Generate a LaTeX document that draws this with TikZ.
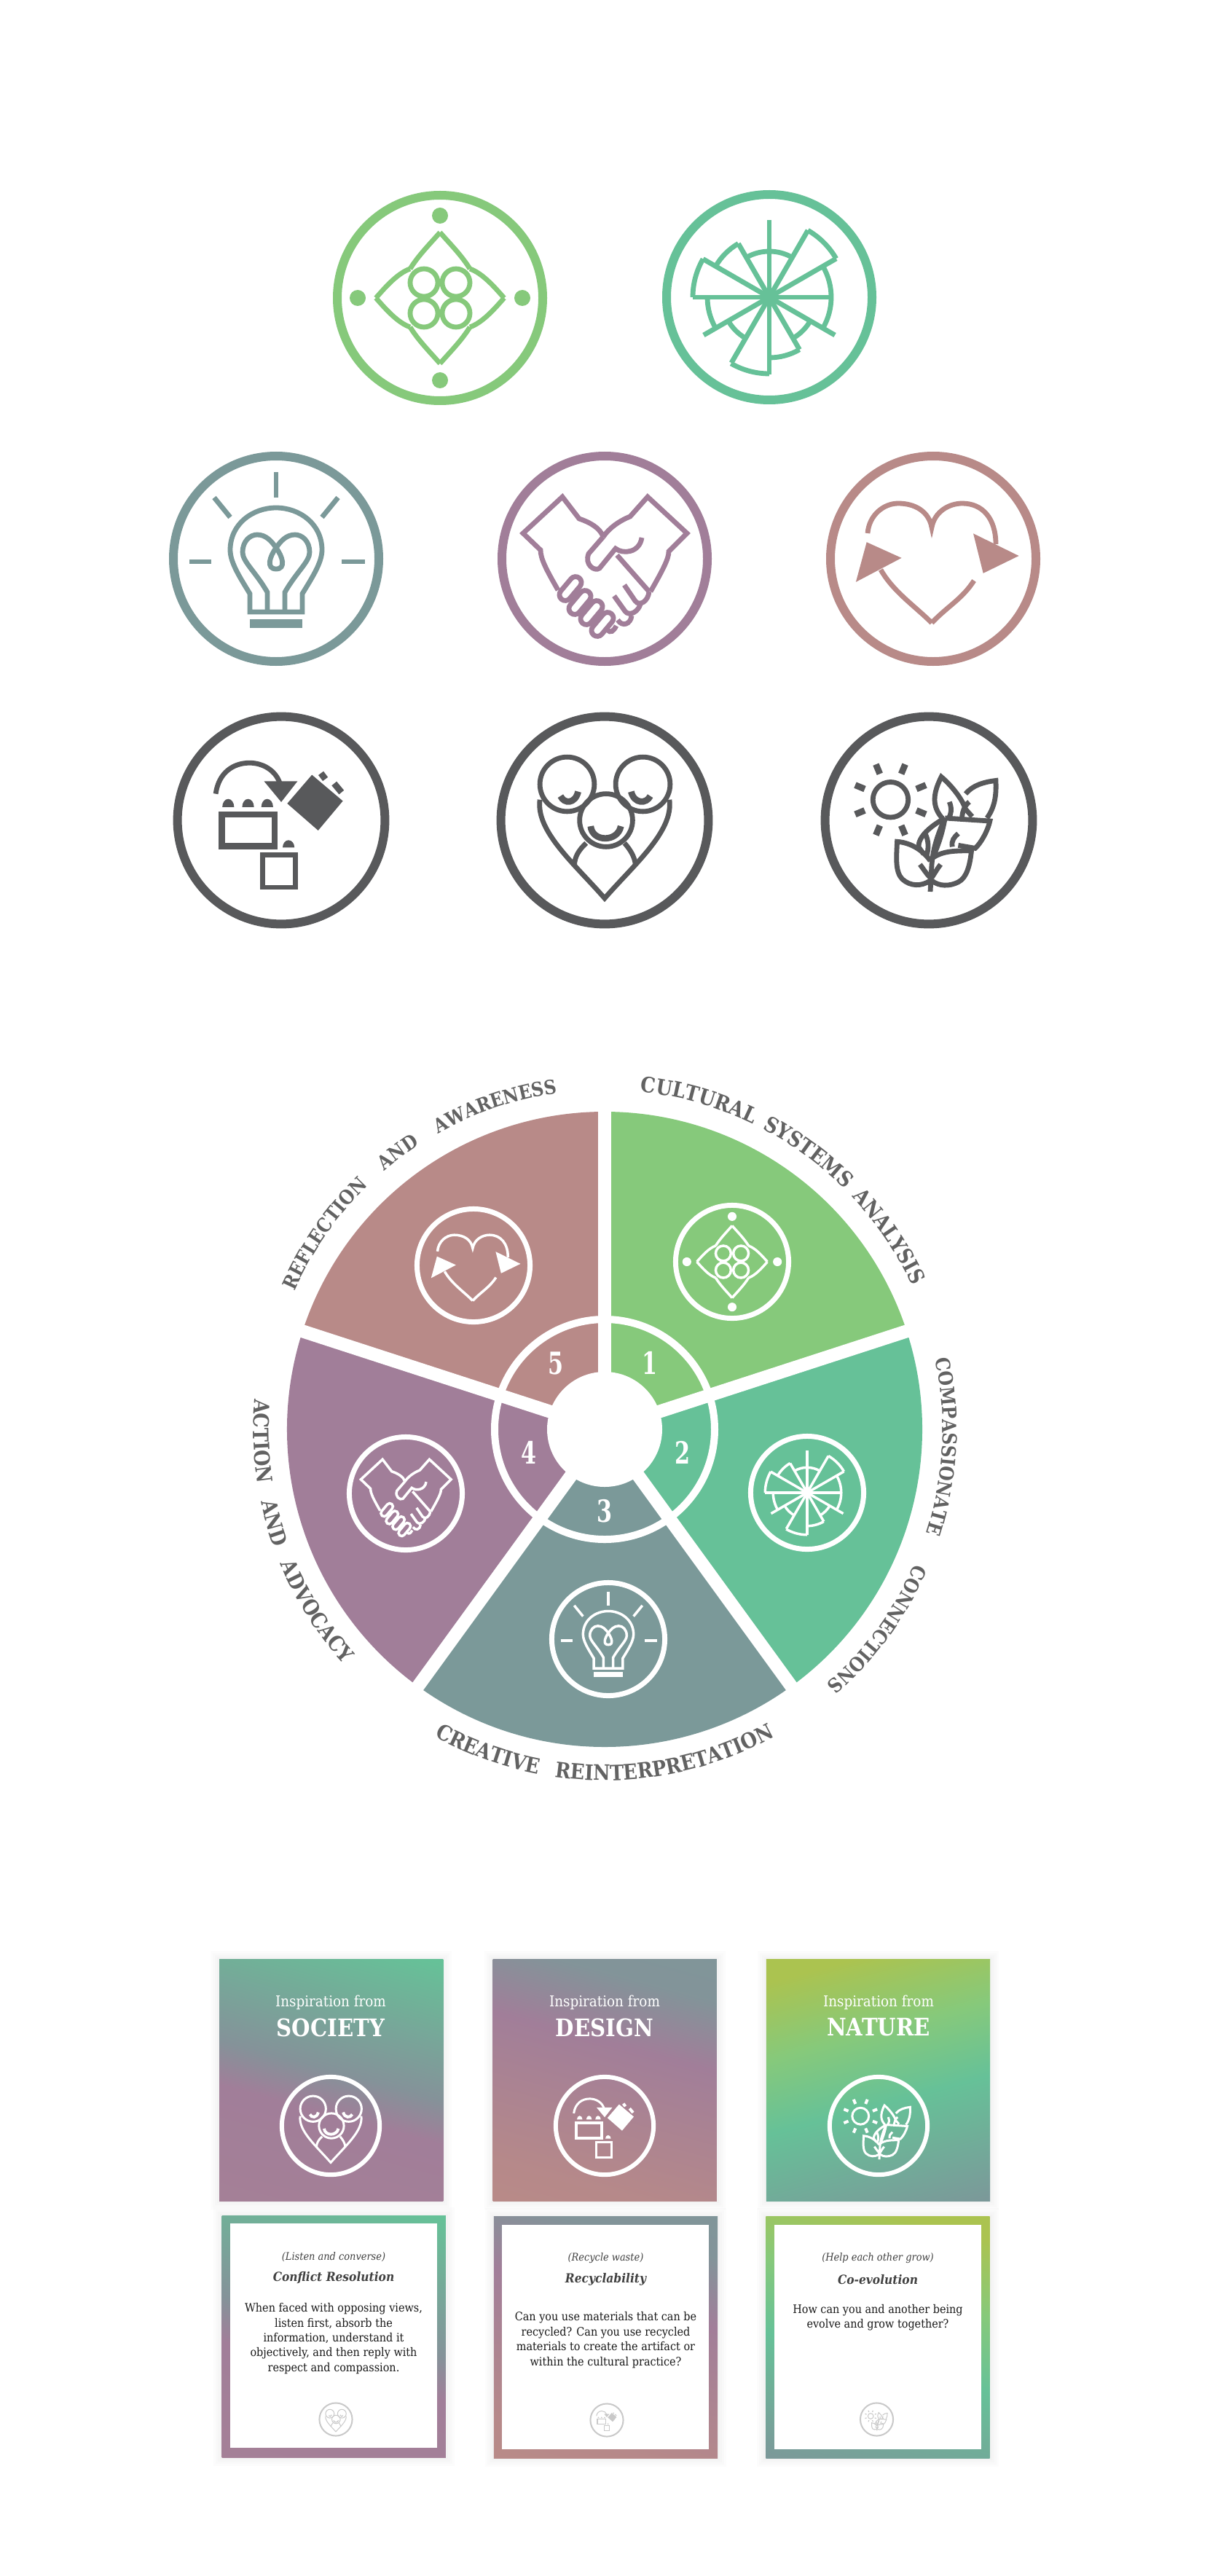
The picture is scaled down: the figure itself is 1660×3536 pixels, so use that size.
\documentclass[tikz,border=0pt]{standalone}
\usepackage{fontspec}
\usetikzlibrary{positioning,decorations.text}
\setmainfont{DejaVu Serif}
\newfontfamily\bodyfam{DejaVu Serif}[FakeStretch=0.9]
\newfontfamily\rimfam{DejaVu Serif}[FakeStretch=0.88]
\newfontfamily\numfam{DejaVu Serif}[FakeStretch=0.72]
\newcommand{\rimfont}{\fontsize{14.6}{16}\rimfam\bfseries\color{inkgray}}
\newcommand{\rimsmall}{\fontsize{13.4}{15}\rimfam\bfseries\color{inkgray}}
\definecolor{leaf}{HTML}{86C97B}
\definecolor{mint}{HTML}{66C198}
\definecolor{slate}{HTML}{7B9999}
\definecolor{plum}{HTML}{A17E99}
\definecolor{rose}{HTML}{B88A88}
\definecolor{coal}{HTML}{58595B}
\definecolor{inkgray}{HTML}{626262}
\definecolor{lime}{HTML}{ABC350}
\definecolor{faint}{HTML}{C9C9C9}
\pgfdeclareverticalshading{societyshade}{100bp}{color(0bp)=(plum!85!rose); color(19bp)=(plum!85!rose); color(43bp)=(plum); color(52bp)=(slate!75!plum); color(80bp)=(mint); color(100bp)=(mint)}
\pgfdeclareverticalshading{designshade}{100bp}{color(0bp)=(rose); color(20bp)=(rose); color(28bp)=(rose!90!plum); color(58bp)=(plum); color(72bp)=(slate!80!plum); color(100bp)=(slate)}
\pgfdeclareverticalshading{natureshade}{100bp}{color(0bp)=(slate); color(20bp)=(slate); color(45bp)=(mint); color(60bp)=(leaf); color(76bp)=(lime); color(100bp)=(lime)}
\tikzset{
  iconbase/.style={line cap=round, line join=round},
  bigicon/.style={line width=3.4pt, ringline/.style={line width=6pt}, boldline/.style={line width=4.4pt}, tipline/.style={line width=2pt}},
  midicon/.style={scale=0.55, line width=1.75pt, color=white, ringline/.style={line width=3.5pt}, boldline/.style={line width=2.3pt}, tipline/.style={line width=1pt}},
  cardicon/.style={scale=0.476, line width=1.5pt, color=white, ringline/.style={line width=3pt}, boldline/.style={line width=2pt}, tipline/.style={line width=1pt}},
  tinyicon/.style={scale=0.16, line width=0.5pt, color=faint, ringline/.style={line width=1pt}, boldline/.style={line width=0.6pt}, tipline/.style={line width=0.3pt}},
  cardbox/.style={inner sep=0, minimum width=153.6pt, minimum height=165.6pt},
  blankbox/.style={inner sep=0, fill=white, minimum width=142pt, minimum height=154pt},
  halo/.style={inner sep=0, fill=black, opacity=0.012},
  numtext/.style={inner sep=0, text=white, font=\fontsize{21}{23}\numfam\bfseries},
  insptext/.style={inner sep=0, text=white, font=\fontsize{10.2}{12}\bodyfam},
  topictext/.style={inner sep=0, text=white, font=\fontsize{16.6}{19}\rimfam\bfseries},
  asidetext/.style={inner sep=0, text=black!75, font=\fontsize{7.2}{9}\bodyfam\itshape},
  titletext/.style={inner sep=0, text=black!75, font=\fontsize{8.6}{10}\bodyfam\bfseries\itshape},
  bodytext/.style={inner sep=0, align=center, text=black!90, font=\fontsize{8}{10.2}\bodyfam},
  pics/seedicon/.style={code={
    \tikzset{iconbase}
    \draw[ringline] (0,0) circle (141);
    \foreach \a in {0,90,180,270} \fill (\a:113) circle (11);
    \foreach \sx/\sy in {1/1,1/-1,-1/1,-1/-1} {
      \draw (\sx*22,\sy*21) circle (19);
      \draw (0,\sy*90) .. controls (\sx*14,\sy*74) and (\sx*30,\sy*58) .. (\sx*41,\sy*40);
      \draw (\sx*88,0) .. controls (\sx*74,\sy*16) and (\sx*58,\sy*34) .. (\sx*41,\sy*40);
    }
  }},
  pics/wheelicon/.style={code={
    \tikzset{iconbase}
    \draw[ringline] (0,0) circle (141);
    \foreach \a/\r in {-90/106,-60/106,-30/106,0/85,30/104,60/83,90/106,120/104,150/104,180/105,210/105,240/85}
      \draw (0,0) -- (\a:\r);
    \foreach \s/\e/\r in {-60/-30/106,-30/30/85,30/60/65,60/90/83,90/120/105,120/150/65,150/180/85,180/210/105,210/240/85,240/300/63}
      \draw (\s:\r) arc[start angle=\s, end angle=\e, radius=\r];
  }},
  pics/bulbicon/.style={code={
    \tikzset{iconbase}
    \draw[ringline] (0,0) circle (141);
    \draw (0,-119) -- (0,-84);
    \draw (-119,4) -- (-89,4);
    \draw (90,4) -- (122,4);
    \draw (-85,-84) -- (-63,-57);
    \draw (85,-84) -- (63,-57);
    \draw (-36,73) -- (-36,48) .. controls (-50,25) and (-63,5) .. (-63,-12) .. controls (-63,-48) and (-32,-70) .. (0,-70) .. controls (32,-70) and (63,-48) .. (63,-12) .. controls (63,5) and (50,25) .. (36,48) -- (36,73) -- cycle;
    \draw (-12,73) -- (-12,46) .. controls (-28,18) and (-46,4) .. (-46,-9) .. controls (-46,-24) and (-36,-33) .. (-26,-33) .. controls (-14,-33) and (-6,-24) .. (0,-15) .. controls (9,-3) and (14,14) .. (0,14) .. controls (-14,14) and (-9,-3) .. (0,-15) .. controls (6,-24) and (14,-33) .. (26,-33) .. controls (36,-33) and (46,-24) .. (46,-9) .. controls (46,4) and (28,18) .. (12,46) -- (12,73);
    \draw[ringline] (-36,89) -- (36,89);
  }},
  pics/handicon/.style={code={
    \tikzset{iconbase}
    \draw[ringline] (0,0) circle (141);
    \draw (-64,43) .. controls (-80,15) and (-88,0) .. (-88,-12) -- (-112,-35) -- (-58,-85) -- (-35,-55) .. controls (-20,-50) and (-6,-42) .. (-2,-30);
    \draw (63,45) .. controls (80,15) and (88,0) .. (88,-10) -- (113,-35) -- (59,-85) -- (35,-58) .. controls (20,-52) and (6,-42) .. (-2,-30);
    \draw (-2,-30) -- (-22,-7) .. controls (-28,8) and (-14,18) .. (-7,13) -- (15,-14) .. controls (25,-6) and (48,-8) .. (51,-29);
    \draw (17,-5) -- (61,45);
    \foreach \px/\py in {-47/41,-34/60,-18/74,-3/90}
      \draw[shift={(\px,\py)}, rotate=-40] (-8,-11) arc[start angle=180, end angle=360, radius=8] -- (8,11) arc[start angle=0, end angle=180, radius=8] -- cycle;
    \draw (27,36) -- (42,58) .. controls (48,66) and (60,58) .. (61,45);
    \draw (13,51) -- (28,72) .. controls (34,80) and (47,72) .. (49,62);
    \draw (37,78) .. controls (36,90) and (24,94) .. (18,84);
    \draw (16,92) .. controls (12,100) and (8,102) .. (4,98);
  }},
  pics/hearticon/.style={code={
    \tikzset{iconbase}
    \draw[ringline] (0,0) circle (141);
    \draw (-90,-35) .. controls (-88,-60) and (-68,-76) .. (-48,-76) .. controls (-25,-76) and (-6,-65) .. (-2,-43) .. controls (2,-65) and (22,-76) .. (40,-76) .. controls (68,-76) and (86,-55) .. (86,-20);
    \draw (-72,15) .. controls (-55,45) and (-25,65) .. (-2,88);
    \draw (56,30) .. controls (40,55) and (20,65) .. (-2,88);
    \filldraw[tipline] (-90,-20) -- (-48,-1) -- (-103,28) -- cycle;
    \filldraw[tipline] (58,-31) -- (113,-4) -- (70,17) -- cycle;
  }},
  pics/makeicon/.style={code={
    \tikzset{iconbase}
    \draw[ringline] (0,0) circle (141);
    \draw (-89,-36) .. controls (-85,-65) and (-65,-78) .. (-43,-78) .. controls (-25,-78) and (-8,-68) .. (-2,-51);
    \filldraw[tipline] (-19,-51) -- (18,-51) -- (0,-28) -- cycle;
    \filldraw[tipline] (42,-59) -- (81,-26) -- (50,11) -- (11,-23) -- cycle;
    \draw[boldline] (54,-64) -- (60,-56);
    \draw[boldline] (72,-50) -- (82,-38);
    \foreach \px in {-72,-45,-19}
      \fill (\px-8,-18) arc[start angle=180, end angle=360, x radius=8, y radius=11] -- cycle;
    \fill (2,37) arc[start angle=180, end angle=360, x radius=8, y radius=10] -- cycle;
    \draw[boldline] (-81,-8) rectangle (-9,35);
    \draw (-25,47) rectangle (19,91);
  }},
  pics/familyicon/.style={code={
    \tikzset{iconbase}
    \draw[ringline] (0,0) circle (141);
    \draw (-51,-49) circle (37);
    \draw (52,-49) circle (37);
    \draw (2,0) circle (36);
    \draw (-88,-28) .. controls (-94,15) and (-40,60) .. (0,106) .. controls (40,60) and (94,15) .. (88,-28);
    \draw (-25,31) .. controls (-35,40) and (-41,50) .. (-41,61);
    \draw (27,31) .. controls (35,40) and (41,50) .. (42,61);
    \draw[boldline] (-60,-33) .. controls (-55,-22) and (-40,-22) .. (-36,-39);
    \draw[boldline] (62,-33) .. controls (57,-22) and (40,-22) .. (36,-39);
    \draw[boldline] (-19,8) .. controls (-17,30) and (18,30) .. (22,8);
  }},
  pics/planticon/.style={code={
    \tikzset{iconbase}
    \draw[ringline] (0,0) circle (141);
    \draw (-52,-28) circle (24);
    \foreach \a in {22.5,67.5,...,337.5}
      \draw[boldline, shift={(-52,-28)}] (\a:38) -- (\a:52);
    \draw (2,97) -- (4,60) .. controls (6,35) and (14,15) .. (22,-3);
    \draw (2,55) .. controls (-10,38) and (-28,30) .. (-43,29) .. controls (-44,50) and (-46,70) .. (-36,80) .. controls (-25,90) and (-10,90) .. (2,82);
    \draw (4,52) .. controls (20,40) and (40,42) .. (58,41) .. controls (56,60) and (52,78) .. (40,84) .. controls (28,90) and (14,90) .. (4,82);
    \draw (22,-3) .. controls (2,8) and (-14,22) .. (-14,36) -- (-7,46);
    \draw (22,-3) -- (83,1) .. controls (80,15) and (70,32) .. (63,38) -- (40,34);
    \draw (22,-3) .. controls (18,20) and (12,35) .. (6,50);
    \draw (18,-3) .. controls (8,-15) and (2,-30) .. (17,-59) .. controls (30,-48) and (45,-30) .. (50,-15) -- (59,-5);
    \draw (50,-36) .. controls (60,-48) and (75,-52) .. (91,-54) .. controls (92,-35) and (90,-18) .. (79,-3);
    \draw (28,-25) .. controls (32,-15) and (30,-8) .. (27,-3);
    \draw (55,-25) .. controls (48,-20) and (45,-10) .. (45,-1);
    \draw (40,18) .. controls (35,22) and (30,28) .. (32,36);
    \draw (-5,18) .. controls (0,28) and (0,38) .. (-3,48);
    \draw (-12,60) .. controls (-8,65) and (-4,72) .. (2,78);
    \draw (16,60) .. controls (12,65) and (8,72) .. (4,78);
  }}
}
\begin{document}
\begin{tikzpicture}[x=0.5pt, y=-0.5pt]
  \useasboundingbox (0,0) rectangle (1660,3536);
  \fill[white] (0,0) rectangle (1660,3536);
  \pic[bigicon, color=leaf] at (604,409) {seedicon};
  \pic[bigicon, color=mint] at (1056,408) {wheelicon};
  \pic[bigicon, color=slate] at (379,767) {bulbicon};
  \pic[bigicon, color=plum] at (830,767) {handicon};
  \pic[bigicon, color=rose] at (1281,767) {hearticon};
  \pic[bigicon, color=coal, scale=1.01] at (386,1126) {makeicon};
  \pic[bigicon, color=coal, scale=1.01] at (830,1126) {familyicon};
  \pic[bigicon, color=coal, scale=1.01] at (1275,1126) {planticon};

  \coordinate (hub) at (830,1962);
  \foreach \a/\col in {-90/leaf,-18/mint,54/slate,126/plum,198/rose}
    \fill[\col] (hub) -- ++(\a:436) arc[start angle=\a, delta angle=72, radius=436] -- cycle;
  \foreach \a in {-90,-18,54,126,198}
    \draw[white, line width=9pt] (hub) -- ++(\a:450);
  \draw[white, line width=5pt] (hub) circle (151);
  \fill[white] (hub) circle (79);
  \node (n1) [numtext] at (892,1871) {1};
  \node (n2) [numtext] at (937,1994) {2};
  \node (n3) [numtext] at (830,2074) {3};
  \node (n4) [numtext] at (726,1994) {4};
  \node (n5) [numtext] at (763,1871) {5};
  \pic[midicon] at (1005,1732) {seedicon};
  \pic[midicon] at (1108,2049) {wheelicon};
  \pic[midicon] at (835,2250) {bulbicon};
  \pic[midicon] at (557,2050) {handicon};
  \pic[midicon] at (650,1737) {hearticon};
  \path[decorate, decoration={text along path, text align={fit to path stretching spaces}, text={|\rimfont|CULTURAL SYSTEMS ANALYSIS}}]
    (hub) ++(-84:466) arc[start angle=-84, end angle=-25, radius=466];
  \path[decorate, decoration={text along path, text align={fit to path stretching spaces}, text={|\rimsmall|REFLECTION AND AWARENESS}}]
    (hub) ++(-156:466) arc[start angle=-156, end angle=-98, radius=466];
  \path[decorate, decoration={text along path, text align={fit to path stretching spaces}, text={|\rimsmall|COMPASSIONATE CONNECTIONS}}]
    (hub) ++(-12:464) arc[start angle=-12, end angle=49, radius=464];
  \path[decorate, decoration={text along path, text align={fit to path stretching spaces}, text={|\rimfont|CREATIVE REINTERPRETATION}}]
    (hub) ++(119:482) arc[start angle=119, end angle=61, radius=482];
  \path[decorate, decoration={text along path, text align={fit to path stretching spaces}, text={|\rimfont|ACTION AND ADVOCACY}}]
    (hub) ++(-175:482) arc[start angle=-175, end angle=-222, radius=482];

  \foreach \cx/\cy in {454.7/2855.5,830.2/2855.5,1205.5/2855.5,458.2/3207.5,831.5/3208.5,1205/3208.5}
    \foreach \g in {3,6,9,12}
      \node[halo, minimum width=153.6pt+\g pt, minimum height=165.6pt+\g pt] at (\cx,\cy) {};

  \node (card1) [cardbox, shade, shading=societyshade, shading angle=-15] at (454.7,2855.5) {};
  \node (card2) [cardbox, shade, shading=designshade, shading angle=-15] at (830.2,2855.5) {};
  \node (card3) [cardbox, shade, shading=natureshade, shading angle=15] at (1205.5,2855.5) {};
  \node (insp1) [insptext] at (454,2749) {Inspiration from};
  \node (insp2) [insptext] at (830,2749) {Inspiration from};
  \node (insp3) [insptext] at (1206,2749) {Inspiration from};
  \node (topic1) [topictext] at (454,2783) {SOCIETY};
  \node (topic2) [topictext] at (830,2783) {DESIGN};
  \node (topic3) [topictext] at (1206,2783) {NATURE};
  \pic[cardicon] at (454,2918) {familyicon};
  \pic[cardicon] at (830,2918) {makeicon};
  \pic[cardicon] at (1206,2918) {planticon};

  \node (back1) [cardbox, shade, shading=societyshade, shading angle=-15] at (458.2,3207.5) {};
  \node (back2) [cardbox, shade, shading=designshade, shading angle=-15] at (831.5,3208.5) {};
  \node (back3) [cardbox, shade, shading=natureshade, shading angle=-15] at (1205,3208.5) {};
  \node (blank1) [blankbox] at (458,3206) {};
  \node (blank2) [blankbox] at (831,3208) {};
  \node (blank3) [blankbox] at (1205,3208) {};
  \node (aside1) [asidetext] at (458,3098) {(Listen and converse)};
  \node (aside2) [asidetext] at (831.5,3100) {(Recycle waste)};
  \node (aside3) [asidetext] at (1205,3100) {(Help each other grow)};
  \node (title1) [titletext] at (458,3127) {Conflict Resolution};
  \node (title2) [titletext] at (831.5,3129) {Recyclability};
  \node (title3) [titletext] at (1205,3129) {Co-evolution};
  \node (body1) [bodytext] at (458,3210) {When faced with opposing views,\\listen first, absorb the\\information, understand it\\objectively, and then reply with\\respect and compassion.};
  \node (body2) [bodytext] at (831.5,3212) {Can you use materials that can be\\recycled? Can you use recycled\\materials to create the artifact or\\within the cultural practice?};
  \node (body3) [bodytext] at (1205,3181) {How can you and another being\\evolve and grow together?};
  \pic[tinyicon] at (461,3321) {familyicon};
  \pic[tinyicon] at (833,3322) {makeicon};
  \pic[tinyicon] at (1203.5,3321) {planticon};
\end{tikzpicture}
\end{document}
